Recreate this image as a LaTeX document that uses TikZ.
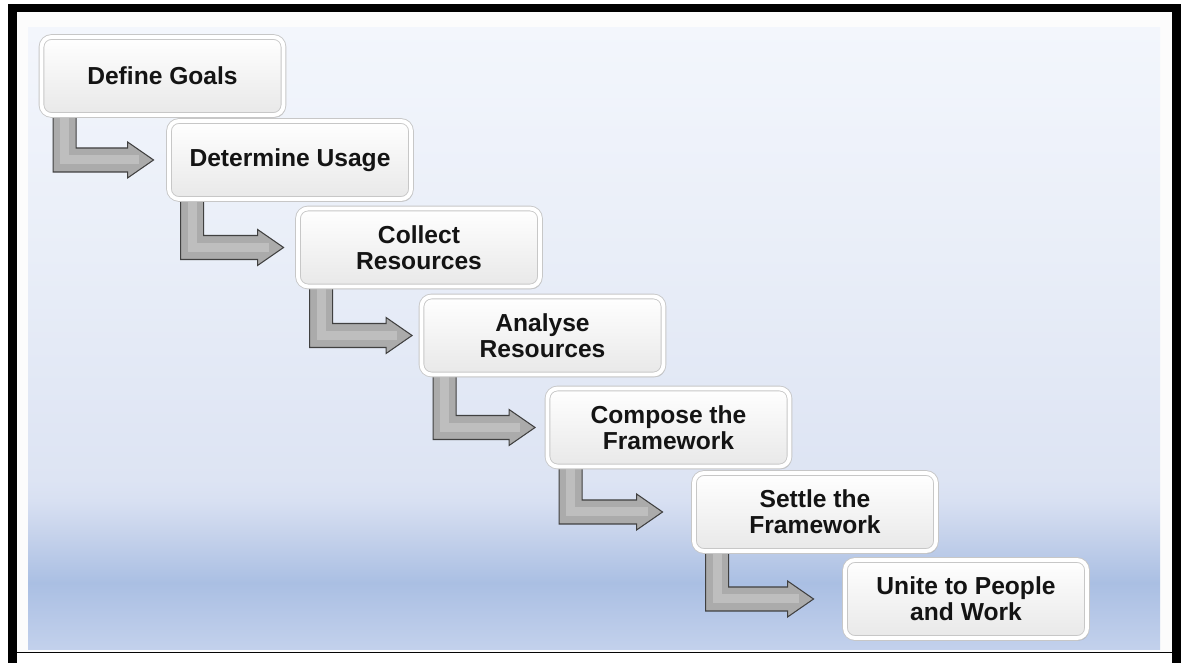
\documentclass[tikz,border=0pt]{standalone}
\usepackage{fontspec}
\setmainfont{Liberation Sans}
\usetikzlibrary{calc,shadows}
\usepackage{xcolor}

\definecolor{pbA}{HTML}{C3D1EC}
\definecolor{pbB}{HTML}{B8C9E8}
\definecolor{pbC}{HTML}{AABFE3}
\definecolor{pbD}{HTML}{C8D4EC}
\definecolor{pbE}{HTML}{D8E0F2}
\definecolor{pbF}{HTML}{DDE4F3}
\definecolor{pbG}{HTML}{E9EEF8}
\definecolor{pbH}{HTML}{F3F6FC}
\pgfdeclareverticalshading{panelshade}{100bp}{color(0bp)=(pbA); color(25bp)=(pbA);
  color(27.4bp)=(pbB); color(30.4bp)=(pbC); color(34.6bp)=(pbD); color(37bp)=(pbE);
  color(38.7bp)=(pbF); color(57bp)=(pbG); color(75bp)=(pbH); color(100bp)=(pbH)}

\pgfdeclarelayer{back}
\pgfsetlayers{back,main}

\tikzset{
  stepbox/.style={rectangle,rounded corners=5.7pt,minimum width=4.84cm,minimum height=1.56cm,
    align=center,font=\bfseries\fontsize{14}{15}\selectfont,text=black!92,
    top color=white,bottom color=black!9,draw=black!22,double=white,double distance=2.2pt,
    line width=0.5pt,drop shadow={opacity=0.35,shadow xshift=1pt,shadow yshift=-1.5pt}},
  stepshape/.style={fill=black!33,draw=black!75,line width=0.6pt,line join=miter},
  stepstripe/.style={draw=black!22,line width=0.18cm,opacity=0.7,line join=miter}
}

% elbow arrow from box #1 to box #2, tip #3 before the box
\newcommand{\steparrow}[3]{%
\path[stepshape] let \p1=(#1.south west), \p2=(#2.west) in
  (\x1+0.24cm,\y1+0.1cm) -- (\x1+0.7cm,\y1+0.1cm) -- (\x1+0.7cm,\y2+0.24cm)
  -- (\x2-#3-0.52cm,\y2+0.24cm) -- (\x2-#3-0.52cm,\y2+0.36cm) -- (\x2-#3,\y2)
  -- (\x2-#3-0.52cm,\y2-0.36cm) -- (\x2-#3-0.52cm,\y2-0.24cm) -- (\x1+0.24cm,\y2-0.24cm) -- cycle;
\path[stepstripe] let \p1=(#1.south west), \p2=(#2.west) in
  (\x1+0.47cm,\y1) -- (\x1+0.47cm,\y2) -- (\x2-#3-0.3cm,\y2);}

\begin{document}
\begin{tikzpicture}
\useasboundingbox (0,0) rectangle (23.62,13.26);
\begin{pgfonlayer}{back}
\fill[white] (0,0) rectangle (23.62,13.26);
\fill[black] (0.16,13.02) rectangle (23.62,13.18);
\fill[black] (0.16,0) rectangle (0.34,13.18);
\fill[black] (23.44,0) rectangle (23.62,13.18);
\fill[black!98] (0.34,0.2) rectangle (23.44,0.225);
\fill[black!1] (0.34,0.225) rectangle (23.44,13.02);
\shade[shading=panelshade] (0.56,0.26) rectangle (23.2,12.7);
\end{pgfonlayer}

\node[stepbox] (goals) at (3.25,11.74) {Define Goals};
\node[stepbox] (usage) at (5.8,10.06) {Determine Usage};
\node[stepbox] (collect) at (8.38,8.31) {Collect\\Resources};
\node[stepbox] (analyse) at (10.85,6.55) {Analyse\\Resources};
\node[stepbox] (compose) at (13.37,4.71) {Compose the\\Framework};
\node[stepbox] (settle) at (16.3,3.02) {Settle the\\Framework};
\node[stepbox] (unite) at (19.32,1.28) {Unite to People\\and Work};

\begin{pgfonlayer}{back}
\steparrow{goals}{usage}{0.3cm}
\steparrow{usage}{collect}{0.28cm}
\steparrow{collect}{analyse}{0.18cm}
\steparrow{analyse}{compose}{0.24cm}
\steparrow{compose}{settle}{0.62cm}
\steparrow{settle}{unite}{0.62cm}
\end{pgfonlayer}
\end{tikzpicture}
\end{document}
